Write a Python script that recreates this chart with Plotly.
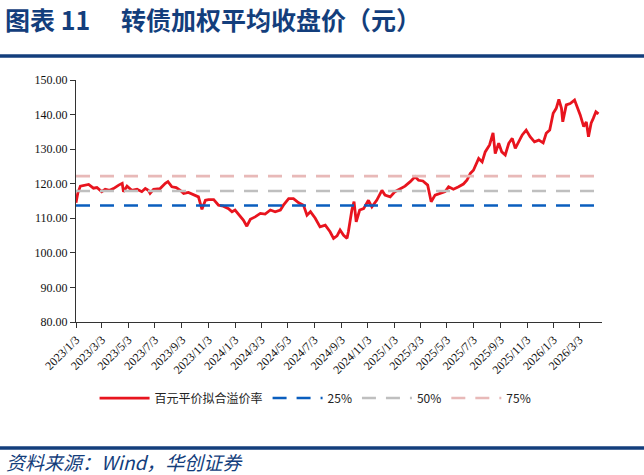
import plotly.graph_objects as go

# ---------------- data ----------------
dates = [
    "2023-01-03", "2023-01-07", "2023-01-13", "2023-02-01", "2023-02-12", "2023-02-20",
    "2023-03-03", "2023-03-11", "2023-03-21", "2023-03-30", "2023-04-11", "2023-04-19",
    "2023-04-22", "2023-04-30", "2023-05-11", "2023-05-23", "2023-06-03", "2023-06-11",
    "2023-06-18", "2023-06-22", "2023-06-30", "2023-07-15", "2023-07-27", "2023-08-02",
    "2023-08-11", "2023-08-21", "2023-08-30", "2023-09-07", "2023-09-18", "2023-09-30",
    "2023-10-11", "2023-10-19", "2023-10-27", "2023-11-03", "2023-11-15", "2023-11-26",
    "2023-12-07", "2023-12-19", "2023-12-27", "2024-01-03", "2024-01-15", "2024-01-22",
    "2024-01-30", "2024-02-07", "2024-02-18", "2024-03-01", "2024-03-12", "2024-03-24",
    "2024-04-04", "2024-04-16", "2024-04-23", "2024-05-05", "2024-05-16", "2024-05-28",
    "2024-06-08", "2024-06-16", "2024-06-24", "2024-07-05", "2024-07-16", "2024-07-28",
    "2024-08-08", "2024-08-16", "2024-08-24", "2024-08-31", "2024-09-08", "2024-09-16",
    "2024-09-19", "2024-09-27", "2024-10-02", "2024-10-07", "2024-10-15", "2024-10-24",
    "2024-11-04", "2024-11-12", "2024-11-23", "2024-12-05", "2024-12-12", "2024-12-24",
    "2025-01-04", "2025-01-16", "2025-01-27", "2025-02-08", "2025-02-19", "2025-02-27",
    "2025-03-09", "2025-03-20", "2025-03-28", "2025-04-06", "2025-04-18", "2025-04-29",
    "2025-05-07", "2025-05-18", "2025-05-30", "2025-06-10", "2025-06-18", "2025-06-26",
    "2025-07-03", "2025-07-15", "2025-07-23", "2025-07-30", "2025-08-09", "2025-08-17",
    "2025-08-22", "2025-08-30", "2025-09-06", "2025-09-14", "2025-09-22", "2025-09-30",
    "2025-10-07", "2025-10-15", "2025-10-23", "2025-11-01", "2025-11-10", "2025-11-20",
    "2025-11-30", "2025-12-10", "2025-12-17", "2025-12-25", "2026-01-02", "2026-01-09",
    "2026-01-15", "2026-01-21", "2026-01-24", "2026-02-01", "2026-02-10", "2026-02-20",
    "2026-02-27", "2026-03-05", "2026-03-13", "2026-03-19", "2026-03-24", "2026-03-30",
    "2026-04-04", "2026-04-10", "2026-04-16",
]
price = [
    114.5, 117.2, 119.3, 119.8, 118.7, 118.9,
    117.7, 118.4, 118.1, 118.6, 119.6, 120.1,
    117.7, 119.3, 118.1, 118.4, 117.7, 118.6,
    118.1, 117.2, 118.4, 118.6, 120.1, 120.6,
    119.1, 118.9, 118.1, 117.2, 117.5, 116.9,
    116.2, 112.6, 115.2, 115.4, 115.4, 113.8,
    113.5, 112.8, 111.9, 112.4, 110.6, 109.5,
    107.7, 109.7, 110.4, 111.4, 111.2, 112.4,
    111.9, 112.4, 113.8, 115.7, 115.7, 114.5,
    113.8, 110.9, 111.9, 110.0, 107.5, 108.0,
    106.1, 104.2, 104.9, 106.6, 105.1, 104.2,
    106.1, 112.4, 114.8, 109.0, 112.4, 112.8,
    115.2, 113.3, 115.2, 118.1, 116.7, 116.2,
    117.7, 118.6, 119.3, 120.6, 122.0, 121.0,
    120.8, 119.6, 114.8, 116.7, 117.2, 117.7,
    119.1, 118.4, 119.1, 119.9, 121.0, 123.0,
    123.9, 127.3, 126.3, 129.2, 131.2, 134.7,
    128.7, 131.7, 129.2, 128.3, 131.7, 133.1,
    130.2, 132.1, 134.1, 135.5, 133.6, 132.1,
    132.6, 131.8, 134.6, 135.5, 140.4, 141.8,
    144.4, 141.8, 137.9, 142.8, 143.2, 144.2,
    141.8, 139.9, 136.5, 137.9, 133.6, 137.5,
    138.9, 140.8, 140.2,
]
p25 = 113.7
p50 = 117.9
p75 = 122.2

tick_dates = [
    "2023-01-03", "2023-03-03", "2023-05-03", "2023-07-03", "2023-09-03", "2023-11-03",
    "2024-01-03", "2024-03-03", "2024-05-03", "2024-07-03", "2024-09-03", "2024-11-03",
    "2025-01-03", "2025-03-03", "2025-05-03", "2025-07-03", "2025-09-03", "2025-11-03",
    "2026-01-03", "2026-03-03",
]
tick_labels = [
    "2023/1/3", "2023/3/3", "2023/5/3", "2023/7/3", "2023/9/3", "2023/11/3",
    "2024/1/3", "2024/3/3", "2024/5/3", "2024/7/3", "2024/9/3", "2024/11/3",
    "2025/1/3", "2025/3/3", "2025/5/3", "2025/7/3", "2025/9/3", "2025/11/3",
    "2026/1/3", "2026/3/3",
]
y_ticks = [80, 90, 100, 110, 120, 130, 140, 150]

series_name = "百元平价拟合溢价率"
title_left = "图表 11"
title_right = "转债加权平均收盘价（元）"
source_text = "资料来源：Wind，华创证券"
x_end = "2026-04-24"

# ---------------- figure ----------------
RED = "#E8141E"
BLUE = "#0A5EBE"
GRAY = "#BFBFBF"
PINK = "#E8B9B8"
NAVY = "#133E7C"

fig = go.Figure()
fig.add_trace(go.Scatter(x=dates, y=price, mode="lines", name=series_name,
                         line=dict(color=RED, width=2.8)))
span = [dates[0], x_end]
fig.add_trace(go.Scatter(x=span, y=[p25, p25], mode="lines", name="25%",
                         line=dict(color=BLUE, width=2.6, dash="14px,10px")))
fig.add_trace(go.Scatter(x=span, y=[p50, p50], mode="lines", name="50%",
                         line=dict(color=GRAY, width=2.6, dash="14px,10px")))
fig.add_trace(go.Scatter(x=span, y=[p75, p75], mode="lines", name="75%",
                         line=dict(color=PINK, width=2.6, dash="14px,10px")))

serif = "Liberation Serif, serif"
cjk = "Noto Sans CJK SC"

PW = 526.0
PH = 242.0


def px_x(px):
    return (px - 76) / PW


def px_y(py):
    return (322 - py) / PH


fig.update_layout(
    width=644, height=475,
    margin=dict(l=76, r=42, t=80, b=153),
    paper_bgcolor="white", plot_bgcolor="white",
    showlegend=True,
    legend=dict(orientation="h", xref="container", yref="container",
                x=0.49, xanchor="center", y=0.162, yanchor="middle",
                font=dict(family=cjk, size=12, color="#222"),
                itemwidth=50, traceorder="normal",
                bgcolor="rgba(0,0,0,0)"),
    xaxis=dict(type="date", range=[dates[0], x_end], automargin=False,
               tickmode="array", tickvals=tick_dates, ticktext=tick_labels,
               tickangle=-45, showgrid=False, zeroline=False,
               showline=True, linecolor="#333", linewidth=1,
               ticks="outside", ticklen=5, tickcolor="#333",
               tickfont=dict(family=serif, size=12, color="#111")),
    yaxis=dict(range=[80, 150], tickmode="array", tickvals=y_ticks, automargin=False,
               tickformat=".2f", showgrid=False, zeroline=False,
               showline=True, linecolor="#333", linewidth=1,
               ticks="outside", ticklen=5, tickcolor="#333",
               tickfont=dict(family=serif, size=12, color="#111")),
)

# title
fig.add_annotation(text="<b>" + title_left + "</b>", xref="paper", yref="paper",
                   x=px_x(3), y=px_y(19), xanchor="left", yanchor="middle",
                   showarrow=False, font=dict(family=cjk, size=25, color=NAVY))
fig.add_annotation(text="<b>" + title_right + "</b>", xref="paper", yref="paper",
                   x=px_x(119), y=px_y(19), xanchor="left", yanchor="middle",
                   showarrow=False, font=dict(family=cjk, size=25, color=NAVY))
# rules
fig.add_shape(type="line", xref="paper", yref="paper",
              x0=px_x(0), x1=px_x(644), y0=px_y(56), y1=px_y(56),
              line=dict(color=NAVY, width=3.5))
fig.add_shape(type="line", xref="paper", yref="paper",
              x0=px_x(0), x1=px_x(644), y0=px_y(448), y1=px_y(448),
              line=dict(color=NAVY, width=3.5))
# source
fig.add_annotation(text="<i>" + source_text + "</i>", xref="paper", yref="paper",
                   x=px_x(4), y=px_y(462), xanchor="left", yanchor="middle",
                   showarrow=False, font=dict(family=cjk, size=19, color=NAVY))

fig.write_html("out.html")
